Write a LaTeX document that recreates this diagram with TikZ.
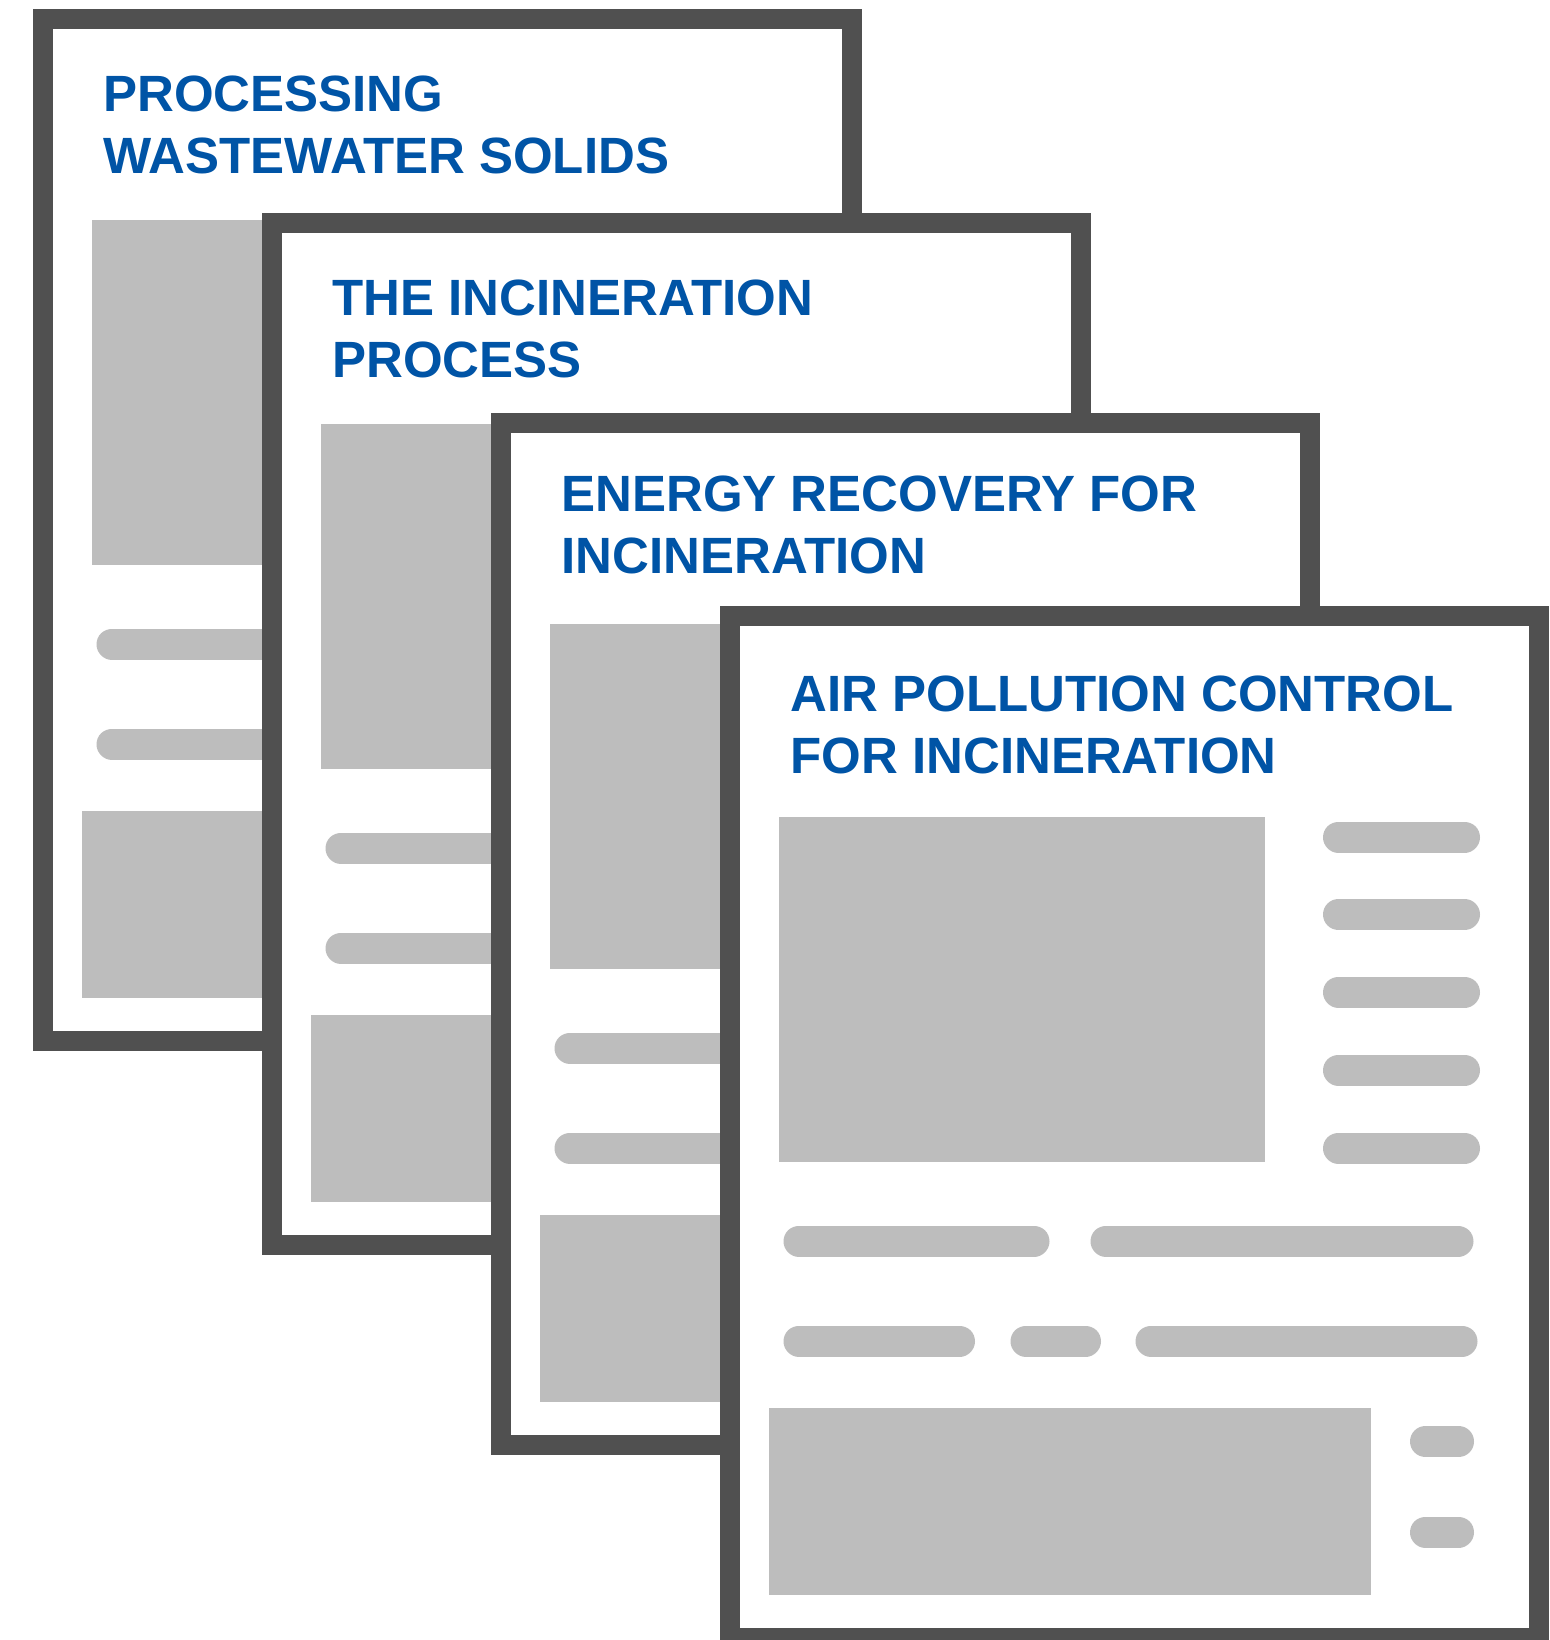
\documentclass[tikz,border=0pt]{standalone}
\usepackage{fontspec}
\setmainfont{Liberation Sans}
\definecolor{framegray}{RGB}{80,80,80}
\definecolor{fillgray}{RGB}{189,189,189}
\definecolor{titleblue}{RGB}{0,84,166}
\begin{document}
\begin{tikzpicture}[x=0.5pt, y=-0.5pt,
		sheet/.style={draw=framegray, line width=10pt, fill=white, inner sep=0pt, outer sep=0pt, minimum width=404.5pt, minimum height=511pt, anchor=north west},
		title/.style={anchor=base west, inner sep=0pt, align=left, text=titleblue, font=\fontsize{25.5}{31}\selectfont\bfseries},
		block/.style={fill=fillgray},
		bar/.style={draw=fillgray, line width=15.5pt, line cap=round},
		]
		\useasboundingbox (0,0) rectangle (1549,1640);
		\foreach \i/\px/\py/\ty/\ta/\tb in {1/33/9/164/PROCESSING/WASTEWATER SOLIDS, 2/262/213/164/THE INCINERATION/PROCESS, 3/491/413/160/ENERGY RECOVERY FOR/INCINERATION, 4/720/606/167.5/AIR POLLUTION CONTROL/FOR INCINERATION}{
			\begin{scope}[shift={(\px,\py)}]
				\node[sheet] (page\i) at (10,10) {};
				\node[title] (title\i) at (70,\ty) {\ta\\\tb};
				\fill[block] (59,211) rectangle (545,556);
				\fill[block] (49,802) rectangle (651,989);
				\foreach \ly in {231,308.5,386,464,542}
					\draw[bar] (618.5,\ly) -- (744.5,\ly);
				\draw[bar] (79,635) -- (314,635);
				\draw[bar] (386,635) -- (738,635);
				\draw[bar] (79,735) -- (239.5,735);
				\draw[bar] (306,735) -- (365.5,735);
				\draw[bar] (431,735) -- (742,735);
				\draw[bar] (705.5,835.5) -- (738.5,835.5);
				\draw[bar] (705.5,926) -- (738.5,926);
			\end{scope}
		}
	\end{tikzpicture}
\end{document}
